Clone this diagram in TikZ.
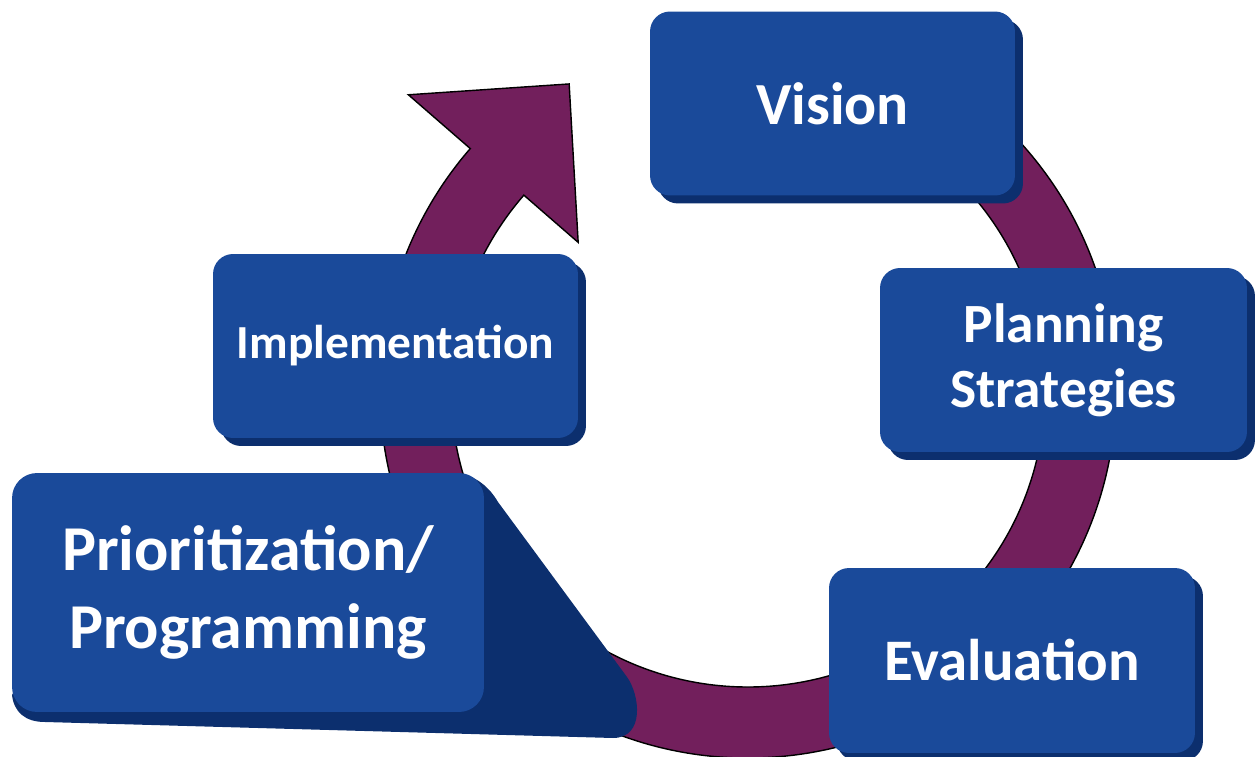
\documentclass[tikz,border=0pt]{standalone}
\usepackage{fontspec}
\setmainfont{Carlito}
\usetikzlibrary{shadows}

\definecolor{stageblue}{RGB}{26,74,154}
\definecolor{stageshadow}{RGB}{12,47,110}
\definecolor{ringpurple}{RGB}{114,31,92}

\begin{document}
\begin{tikzpicture}[x=0.02cm, y=0.02cm,
  stage/.style={fill=stageblue, rounded corners=0.4cm, inner sep=0pt,
    text=white, font=\bfseries, align=center,
    minimum width=7.3cm, minimum height=3.68cm},
  lifted/.style={drop shadow={shadow xshift=0.16cm, shadow yshift=-0.16cm,
    fill=stageshadow, opacity=1}},
  ring/.style={fill=ringpurple, draw=black, line width=0.8pt, line join=miter}]

  \useasboundingbox (0,0) rectangle (1255,-757);

  % the cycle arrow
  \coordinate (ctr) at (748,-390);
  \draw[ring] ([shift={(95:368)}]ctr) arc[start angle=95, end angle=-221, radius=368]
    -- ([shift={(139:450)}]ctr) -- ([shift={(120.3:354.5)}]ctr)
    -- ([shift={(139:225)}]ctr) -- ([shift={(139:297)}]ctr)
    arc[start angle=139, end angle=455, radius=297] -- cycle;

  % the stages
  \node[stage, lifted, font=\bfseries\fontsize{34}{41}\selectfont] (vision) at (832.5,-103.5) {Vision};
  \node[stage, lifted, minimum width=7.34cm, font=\bfseries\fontsize{31.5}{37}\selectfont] (planning) at (1063.5,-360) {Planning\\Strategies};
  \node[stage, lifted, minimum width=7.32cm, minimum height=3.7cm, font=\bfseries\fontsize{33.5}{40}\selectfont] (evaluation) at (1012,-660.5) {Evaluation};
  \node[stage, lifted, font=\bfseries\fontsize{27}{33}\selectfont] (implementation) at (395.5,-346) {Implementation};

  % long shadow under the last stage
  \fill[stageshadow] (440,-473) -- (455,-473) .. controls (475,-474) and (490,-488) .. (498,-502)
    -- (627,-677) .. controls (640,-695) and (645,-738) .. (613,-738)
    -- (45,-722) .. controls (25,-722) and (14,-712) .. (12,-695) -- (60,-600) -- cycle;
  \node[stage, rounded corners=0.5cm, minimum width=9.44cm, minimum height=4.78cm,
    font=\bfseries\fontsize{36.4}{44}\selectfont] (prioritization) at (248,-592.5) {Prioritization/\\Programming};

\end{tikzpicture}
\end{document}
